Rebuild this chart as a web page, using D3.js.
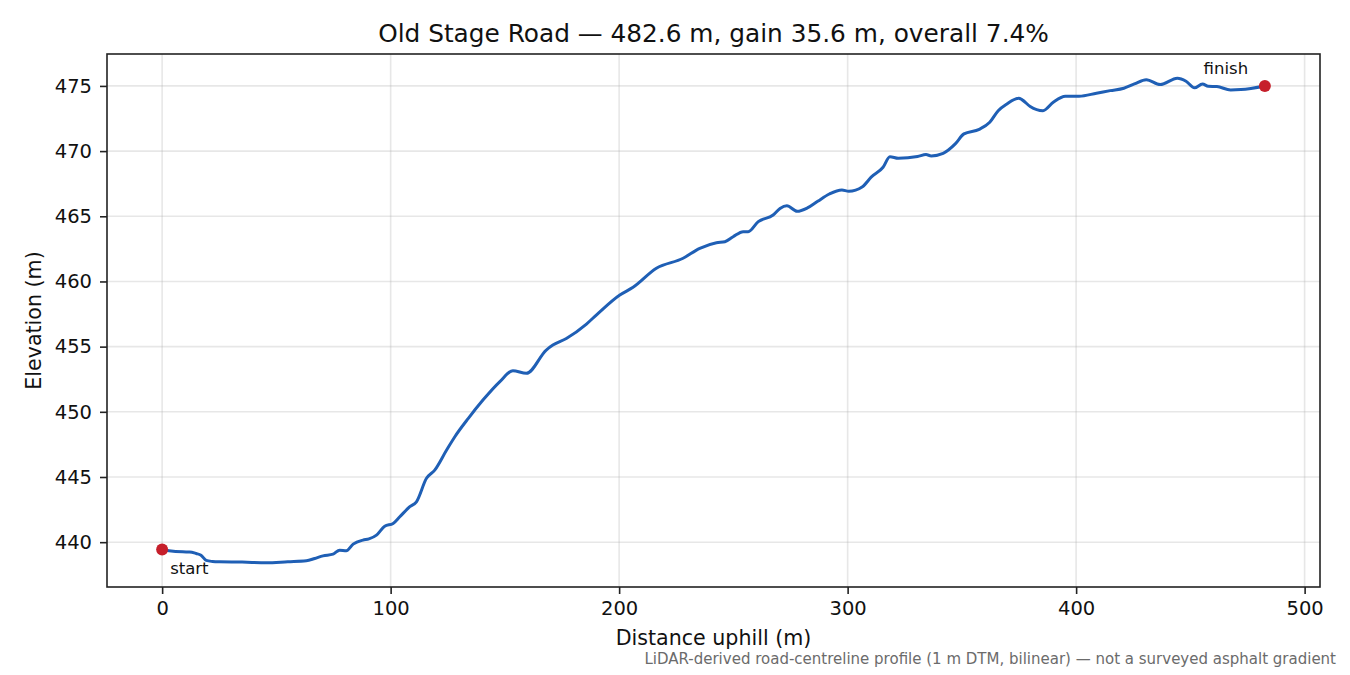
<!DOCTYPE html>
<html>
<head>
<meta charset="utf-8">
<script src="https://cdn.jsdelivr.net/npm/d3@7"></script>
<style>
  body { margin: 0; background: #fff; }
  svg { font-family: "DejaVu Sans", sans-serif; }
</style>
</head>
<body>
<div id="chart"></div>
<script>
var svgWidth = 1350, svgHeight = 675;
var margin = { top: 54, right: 30, bottom: 88, left: 107 };
var width = svgWidth - margin.left - margin.right;
var height = svgHeight - margin.top - margin.bottom;

// profile
var distance = [0, 3, 9, 12, 14.9, 17, 19.3, 22, 25.1, 35, 45.6, 55, 63.1, 66.8, 70.4, 74.8, 77.7, 80.6, 83.6, 87.9,
  90.5, 93.8, 97.4, 101.1, 104, 108.4, 111.3, 115.7, 119.3, 124.5, 128.1, 134, 140.4, 147.7, 153.5, 159.4, 168.1, 171,
  176.9, 185.7, 190, 200.3, 206.1, 216.3, 228, 235.3, 242.6, 246.3, 249.9, 254.3, 256.5, 260.9, 267.4, 270.4, 273.4,
  277.9, 282.4, 286.9, 292, 297.5, 300.5, 306.5, 310.3, 315.5, 318.5, 322.2, 330.6, 334.3, 336.6, 341.8, 347.1, 350.9,
  357.6, 362.2, 365.9, 369.7, 374.9, 376.4, 379.9, 385.5, 390, 395.3, 401.3, 408.9, 414.9, 420.9, 425.5, 430.7, 436.8,
  444.3, 448.1, 451.8, 455.3, 457.8, 461.6, 467.6, 472.1, 482.6];
var elevation = [439.44, 439.35, 439.26, 439.25, 439.13, 439.0, 438.6, 438.52, 438.49, 438.47, 438.42, 438.5, 438.57,
  438.75, 438.95, 439.08, 439.39, 439.34, 439.85, 440.16, 440.25, 440.54, 441.23, 441.44, 441.95, 442.72, 443.1, 444.9,
  445.53, 447.07, 448.09, 449.5, 450.9, 452.3, 453.15, 452.95, 454.74, 455.12, 455.63, 456.73, 457.42, 458.96, 459.55,
  461.01, 461.78, 462.54, 462.97, 463.05, 463.43, 463.82, 463.82, 464.59, 465.1, 465.6, 465.81, 465.38, 465.64, 466.15,
  466.71, 467.02, 466.92, 467.27, 468.0, 468.76, 469.57, 469.45, 469.58, 469.73, 469.63, 469.83, 470.55, 471.32, 471.67,
  472.21, 473.1, 473.62, 474.06, 473.93, 473.42, 473.1, 473.75, 474.21, 474.21, 474.44, 474.64, 474.82, 475.15, 475.48,
  475.1, 475.59, 475.36, 474.85, 475.15, 474.97, 474.95, 474.69, 474.72, 475.0];
var xTicks = [0, 100, 200, 300, 400, 500];
var yTicks = [440, 445, 450, 455, 460, 465, 470, 475];
var endLabels = ["start", "finish"];

var data = distance.map(function(d, i) { return { x: d, y: elevation[i] }; });

var svg = d3.select('#chart').append("svg")
    .attr("width", svgWidth)
    .attr("height", svgHeight);

var g = svg.append("g")
    .attr("transform", "translate(" + margin.left + "," + margin.top + ")");

// 5% padding like matplotlib
var xExt = d3.extent(distance), yExt = d3.extent(elevation);
var xPad = (xExt[1] - xExt[0]) * 0.05, yPad = (yExt[1] - yExt[0]) * 0.05;

var xScale = d3.scaleLinear().range([0, width]).domain([xExt[0] - xPad, xExt[1] + xPad]);
var yScale = d3.scaleLinear().range([height, 0]).domain([yExt[0] - yPad, yExt[1] + yPad]);

// grid
g.append("g").selectAll("line").data(xTicks).enter().append("line")
    .attr("x1", function(d) { return xScale(d); })
    .attr("x2", function(d) { return xScale(d); })
    .attr("y1", 0).attr("y2", height)
    .attr("stroke", "#b0b0b0").attr("stroke-opacity", 0.3).attr("stroke-width", 1.6);
g.append("g").selectAll("line").data(yTicks).enter().append("line")
    .attr("y1", function(d) { return yScale(d); })
    .attr("y2", function(d) { return yScale(d); })
    .attr("x1", 0).attr("x2", width)
    .attr("stroke", "#b0b0b0").attr("stroke-opacity", 0.3).attr("stroke-width", 1.6);

// axes
var xAxis = g.append("g")
    .attr("transform", "translate(0," + height + ")")
    .call(d3.axisBottom(xScale).tickValues(xTicks).tickSize(7).tickPadding(7));
var yAxis = g.append("g")
    .call(d3.axisLeft(yScale).tickValues(yTicks).tickSize(7).tickPadding(8));

g.selectAll('.domain').remove();
g.selectAll('.tick line').style('stroke', '#222').style('stroke-width', '1.6px');
g.selectAll('.tick text').style('fill', '#111').style('font-size', '19.5px').style('font-family', '"DejaVu Sans", sans-serif');

// frame
g.append("rect")
    .attr("x", 0).attr("y", 0)
    .attr("width", width).attr("height", height)
    .attr("fill", "none").attr("stroke", "#222").attr("stroke-width", 1.6);

// profile line
var line = d3.line()
    .x(function(d) { return xScale(d.x); })
    .y(function(d) { return yScale(d.y); })
    .curve(d3.curveMonotoneX);

g.append("path")
    .datum(data)
    .attr("d", line)
    .attr("fill", "none")
    .attr("stroke", "#1f5fb5")
    .attr("stroke-width", 3)
    .attr("stroke-linejoin", "round");

// end points
var ends = [data[0], data[data.length - 1]];
g.selectAll(".end").data(ends).enter().append("circle")
    .attr("class", "end")
    .attr("cx", function(d) { return xScale(d.x); })
    .attr("cy", function(d) { return yScale(d.y); })
    .attr("r", 6)
    .attr("fill", "#c61f2b");

g.selectAll(".endlabel").data(ends).enter().append("text")
    .attr("class", "endlabel")
    .attr("x", function(d, i) { return xScale(d.x) + (i === 0 ? 8 : -39); })
    .attr("y", function(d, i) { return yScale(d.y) + (i === 0 ? 25 : -12); })
    .attr("text-anchor", function(d, i) { return i === 0 ? "start" : "middle"; })
    .style("font-size", "16.5px")
    .attr("fill", "#111")
    .text(function(d, i) { return endLabels[i]; });

// titles
svg.append("text")
    .attr("x", margin.left + width / 2)
    .attr("y", 42)
    .attr("text-anchor", "middle")
    .style("font-size", "24.8px")
    .attr("fill", "#111")
    .text("Old Stage Road — 482.6 m, gain 35.6 m, overall 7.4%");

svg.append("text")
    .attr("x", margin.left + width / 2)
    .attr("y", 645)
    .attr("text-anchor", "middle")
    .style("font-size", "20.6px")
    .attr("fill", "#111")
    .text("Distance uphill (m)");

svg.append("text")
    .attr("transform", "rotate(-90)")
    .attr("x", -(margin.top + height / 2))
    .attr("y", 41)
    .attr("text-anchor", "middle")
    .style("font-size", "20.6px")
    .attr("fill", "#111")
    .text("Elevation (m)");

svg.append("text")
    .attr("x", 1336)
    .attr("y", 664)
    .attr("text-anchor", "end")
    .style("font-size", "15px")
    .attr("fill", "#6b6b6b")
    .text("LiDAR-derived road-centreline profile (1 m DTM, bilinear) — not a surveyed asphalt gradient");
</script>
</body>
</html>
